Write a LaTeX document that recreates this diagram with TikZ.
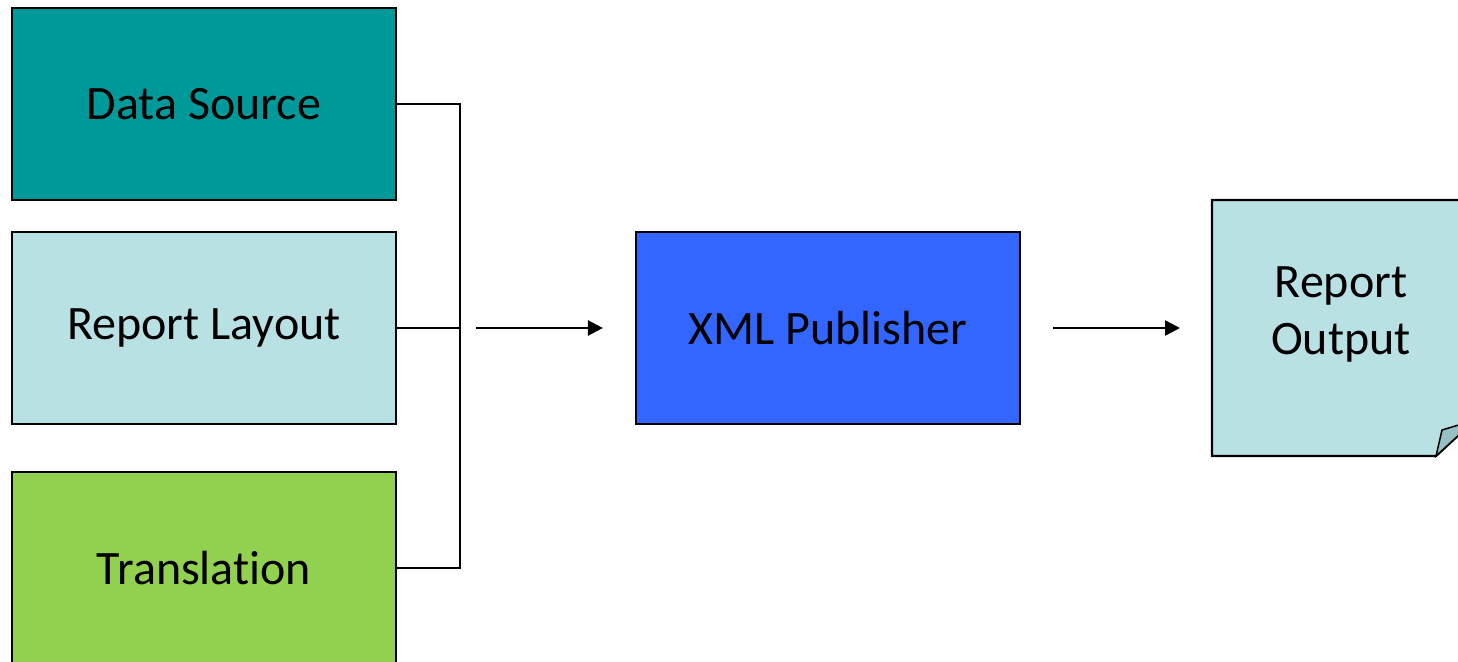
\documentclass[tikz,border=0pt]{standalone}
\usepackage{fontspec}
\setmainfont[Ligatures=NoCommon]{Carlito}
\usetikzlibrary{arrows.meta}
\definecolor{teal1}{HTML}{009999}
\definecolor{lightb}{HTML}{B9E0E3}
\definecolor{greenb}{HTML}{92D050}
\definecolor{blueb}{HTML}{3366FF}
\definecolor{foldc}{HTML}{96C0C2}
\begin{document}
\begin{tikzpicture}[x=1pt,y=-1pt,
  box/.style={draw=black,line width=2.2pt,minimum width=384pt,minimum height=192pt,inner sep=0pt,font=\fontsize{48}{58}\selectfont},
  conn/.style={draw=black,line width=2pt},
  arr/.style={draw=black,line width=2.5pt,-{Triangle[length=15pt,width=15pt]}}]
\useasboundingbox (0,0) rectangle (1458,661);
\clip (0,0) rectangle (1458,661);
\node[box,fill=teal1] (ds) at (204,104) {Data Source};
\node[box,fill=lightb] (rl) at (204,328) {Report Layout};
\node[box,fill=greenb,minimum height=230pt] (tr) at (204,587) {};
\node[font=\fontsize{48}{58}\selectfont] (trt) at (204,568) {Translation};
\node[box,fill=blueb] (xp) at (828,328) {XML Publisher};
% note shape
\draw[line width=2.2pt,fill=lightb] (1212,200) -- (1475,200) -- (1475,420) -- (1436,456) -- (1212,456) -- cycle;
\draw[line width=1.5pt,fill=foldc] (1436,456) -- (1442,430) -- (1475,420) -- cycle;
\node[align=center,font=\fontsize{48}{57}\selectfont,inner sep=0pt] (ro) at (1341,314) {Report\\Output};
\coordinate (ro in) at (1212,328);
\coordinate (j) at (460,328);
\draw[conn] (ds.east) -- (ds.east -| j) -- (j |- trt) -- (trt -| tr.east);
\draw[conn] (rl.east) -- (j);
\coordinate (a1s) at (476,328);
\coordinate (a1e) at (xp.west);
\draw[arr] (a1s) -- ([xshift=-32pt]a1e);
\coordinate (a2s) at ([xshift=32pt]xp.east);
\draw[arr] (a2s) -- ([xshift=-32pt]ro in);
\end{tikzpicture}
\end{document}
